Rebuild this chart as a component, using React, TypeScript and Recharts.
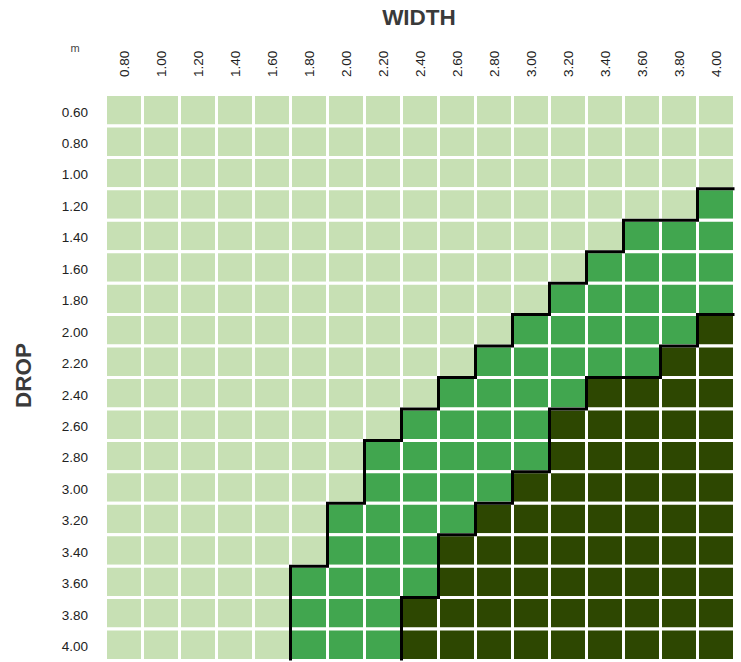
import { ScatterChart, Scatter, XAxis, YAxis, ReferenceArea } from 'recharts';

const widths = ['0.80', '1.00', '1.20', '1.40', '1.60', '1.80', '2.00', '2.20', '2.40', '2.60', '2.80', '3.00', '3.20', '3.40', '3.60', '3.80', '4.00'];
const drops = ['0.60', '0.80', '1.00', '1.20', '1.40', '1.60', '1.80', '2.00', '2.20', '2.40', '2.60', '2.80', '3.00', '3.20', '3.40', '3.60', '3.80', '4.00'];

// first drop (per width column) where the mid band / dark band begins; null = never
const midFrom = [null, null, null, null, null, '3.60', '3.20', '2.80', '2.60', '2.40', '2.20', '2.00', '1.80', '1.60', '1.40', '1.40', '1.20'];
const darkFrom = [null, null, null, null, null, null, null, null, '3.80', '3.40', '3.20', '3.00', '2.60', '2.40', '2.40', '2.20', '2.00'];

const LIGHT = '#c7e0b4';
const MID = '#41a64f';
const DARK = '#2d4701';

const rowIndex = (d: string | null) => (d === null ? drops.length : drops.indexOf(d));

const cellColor = (col: number, row: number) => {
  if (row >= rowIndex(darkFrom[col])) return DARK;
  if (row >= rowIndex(midFrom[col])) return MID;
  return LIGHT;
};

// staircase outline between two bands, in data units
const stairs = (from: (string | null)[]) => {
  const pts: { x: number; y: number }[] = [];
  const first = from.findIndex((d) => d !== null);
  pts.push({ x: first, y: drops.length });
  from.forEach((d, c) => {
    if (c < first) return;
    const r = rowIndex(d);
    pts.push({ x: c, y: r });
    pts.push({ x: c + 1, y: r });
  });
  return pts;
};

const XTick = (props: any) => {
  const { x, y, payload } = props;
  return (
    <text
      x={x}
      y={y}
      transform={`rotate(-90 ${x} ${y})`}
      textAnchor="start"
      dy="0.35em"
      fontSize={13.5}
      fill="#222"
    >
      {widths[Math.floor(payload.value)]}
    </text>
  );
};

const App = () => {
  const cells = [];
  for (let c = 0; c < widths.length; c++) {
    for (let r = 0; r < drops.length; r++) {
      cells.push(
        <ReferenceArea
          key={`${c}-${r}`}
          x1={c}
          x2={c + 1}
          y1={r}
          y2={r + 1}
          fill={cellColor(c, r)}
          fillOpacity={1}
          stroke="#fff"
          strokeWidth={3}
          ifOverflow="visible"
        />
      );
    }
  }

  return (
    <div style={{ position: 'absolute', left: 0, top: 0, width: 741, height: 662, fontFamily: '"Liberation Sans", Arial, sans-serif' }}>
      <ScatterChart width={741} height={662} margin={{ top: 0, right: 6.5, bottom: 1.5, left: 0 }}>
        <XAxis
          type="number"
          dataKey="x"
          orientation="top"
          domain={[0, widths.length]}
          ticks={widths.map((_, i) => i + 0.5)}
          interval={0}
          height={94.5}
          axisLine={false}
          tickLine={false}
          tickSize={0}
          tickMargin={17.5}
          tick={XTick}
        />
        <YAxis
          type="number"
          dataKey="y"
          reversed
          domain={[0, drops.length]}
          ticks={drops.map((_, i) => i + 0.5)}
          tickFormatter={(v: number) => drops[Math.floor(v)]}
          interval={0}
          width={105.5}
          axisLine={false}
          tickLine={false}
          tickSize={0}
          tickMargin={17.5}
          tick={{ fontSize: 13.5, fill: '#222', dy: 1.5 }}
        />
        {cells}
        <Scatter
          data={stairs(midFrom)}
          line={{ stroke: '#000', strokeWidth: 3 }}
          lineType="joint"
          shape={() => <g />}
          isAnimationActive={false}
        />
        <Scatter
          data={stairs(darkFrom)}
          line={{ stroke: '#000', strokeWidth: 3 }}
          lineType="joint"
          shape={() => <g />}
          isAnimationActive={false}
        />
      </ScatterChart>
      <svg width={741} height={662} style={{ position: 'absolute', left: 0, top: 0, pointerEvents: 'none' }}>
        <text x={419} y={25} textAnchor="middle" fontSize={22.5} fontWeight="bold" fill="#3a3a3a">WIDTH</text>
        <text x={31} y={375.5} transform="rotate(-90 31 375.5)" textAnchor="middle" fontSize={22.5} fontWeight="bold" fill="#3a3a3a">DROP</text>
        <text x={75} y={52} textAnchor="middle" fontSize={11} fill="#444">m</text>
      </svg>
    </div>
  );
};

export default App;
